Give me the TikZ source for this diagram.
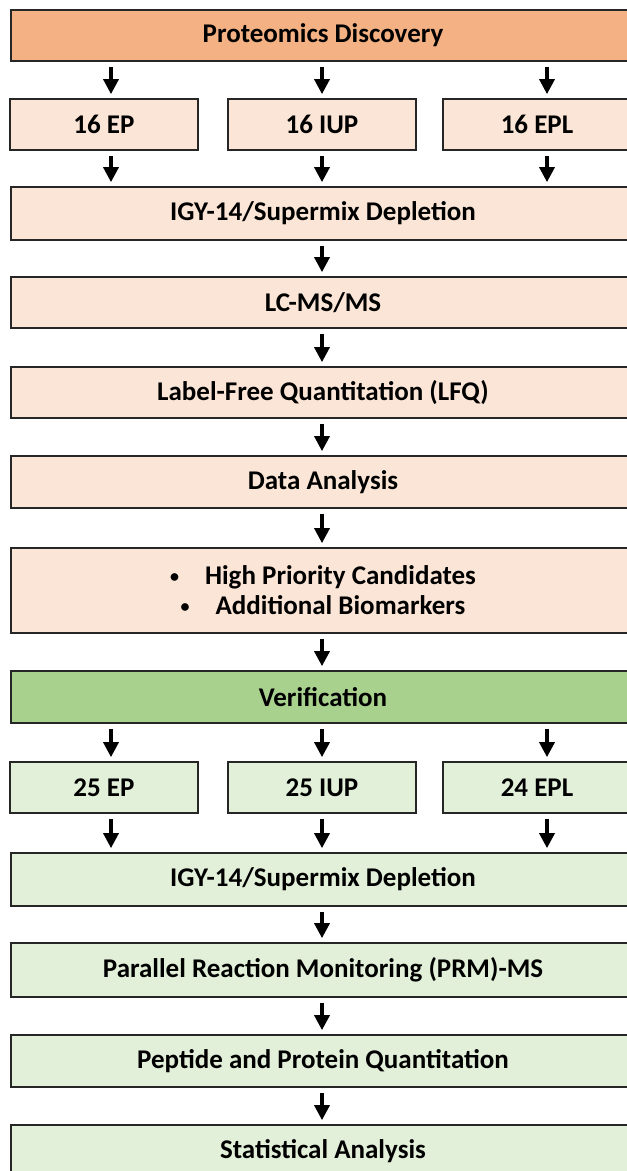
\documentclass[tikz,border=0pt]{standalone}
\usepackage{fontspec}
\setmainfont{Carlito}
\usetikzlibrary{arrows.meta}
\definecolor{discov}{HTML}{F4B183}
\definecolor{discovlt}{HTML}{FBE5D6}
\definecolor{verif}{HTML}{A9D18E}
\definecolor{veriflt}{HTML}{E2F0D9}
\newcommand{\smallbul}{\raisebox{2.5pt}{\fontsize{18}{18}\selectfont\textbullet}}
\tikzset{
  box/.style={draw=black!85, line width=1.7pt, minimum height=52pt, inner sep=0pt,
    font=\bfseries\fontsize{27}{30}\selectfont},
  widebox/.style={box, minimum width=624pt},
  smallbox/.style={box, minimum width=188pt},
  arr/.style={-{Triangle[width=15pt,length=15pt]}, line width=3.4pt, shorten <=5pt, shorten >=4pt}
}
\begin{document}
\begin{tikzpicture}[x=1pt,y=-1pt]
\useasboundingbox (0,0) rectangle (627,1171);
\clip (0,0) rectangle (627,1171);
\coordinate (c1) at (111,0);
\coordinate (c2) at (322,0);
\coordinate (c3) at (547,0);
\node(pd) at (323,35.5)[widebox,fill=discov,minimum height=51pt] {Proteomics Discovery};
\node(ep1) at (104,124.5)[smallbox,fill=discovlt,minimum height=51pt] {16 EP};
\node(iup1) at (322,124.5)[smallbox,fill=discovlt,minimum height=51pt] {16 IUP};
\node(epl1) at (537,124.5)[smallbox,fill=discovlt,minimum height=51pt] {16 EPL};
\node(igy1) at (323,213.5)[widebox,fill=discovlt,minimum height=53pt] {IGY-14/Supermix Depletion};
\node(lcms) at (323,302.5)[widebox,fill=discovlt,minimum height=51pt] {LC-MS/MS};
\node(lfq) at (323,392.5)[widebox,fill=discovlt,minimum height=51pt] {Label-Free Quantitation (LFQ)};
\node(data) at (323,482)[widebox,fill=discovlt] {Data Analysis};
\node(cand) at (323,590.5)[widebox,fill=discovlt,minimum height=85pt,align=center]
  {\smallbul\hspace{26pt}High Priority Candidates\\\smallbul\hspace{26pt}Additional Biomarkers};
\node(ver) at (323,697)[widebox,fill=verif] {Verification};
\node(ep2) at (104,787.5)[smallbox,fill=veriflt,minimum height=51pt] {25 EP};
\node(iup2) at (322,787.5)[smallbox,fill=veriflt,minimum height=51pt] {25 IUP};
\node(epl2) at (537,787.5)[smallbox,fill=veriflt,minimum height=51pt] {24 EPL};
\node(igy2) at (323,879.5)[widebox,fill=veriflt,minimum height=53pt] {IGY-14/Supermix Depletion};
\node(prm) at (323,970)[widebox,fill=veriflt,minimum height=54pt] {Parallel Reaction Monitoring (PRM)-MS};
\node(pep) at (323,1061)[widebox,fill=veriflt] {Peptide and Protein Quantitation};
\node(stat) at (323,1151)[widebox,fill=veriflt] {Statistical Analysis};
\draw[arr] (pd.south -| c1) -- (ep1.north -| c1);
\draw[arr] (pd.south -| c2) -- (iup1.north -| c2);
\draw[arr] (pd.south -| c3) -- (epl1.north -| c3);
\draw[arr] (ep1.south -| c1) -- (igy1.north -| c1);
\draw[arr] (iup1.south -| c2) -- (igy1.north -| c2);
\draw[arr] (epl1.south -| c3) -- (igy1.north -| c3);
\draw[arr] (igy1.south -| c2) -- (lcms.north -| c2);
\draw[arr] (lcms.south -| c2) -- (lfq.north -| c2);
\draw[arr] (lfq.south -| c2) -- (data.north -| c2);
\draw[arr] (data.south -| c2) -- (cand.north -| c2);
\draw[arr] (cand.south -| c2) -- (ver.north -| c2);
\draw[arr] (ver.south -| c1) -- (ep2.north -| c1);
\draw[arr] (ver.south -| c2) -- (iup2.north -| c2);
\draw[arr] (ver.south -| c3) -- (epl2.north -| c3);
\draw[arr] (ep2.south -| c1) -- (igy2.north -| c1);
\draw[arr] (iup2.south -| c2) -- (igy2.north -| c2);
\draw[arr] (epl2.south -| c3) -- (igy2.north -| c3);
\draw[arr] (igy2.south -| c2) -- (prm.north -| c2);
\draw[arr] (prm.south -| c2) -- (pep.north -| c2);
\draw[arr] (pep.south -| c2) -- (stat.north -| c2);
\end{tikzpicture}
\end{document}
